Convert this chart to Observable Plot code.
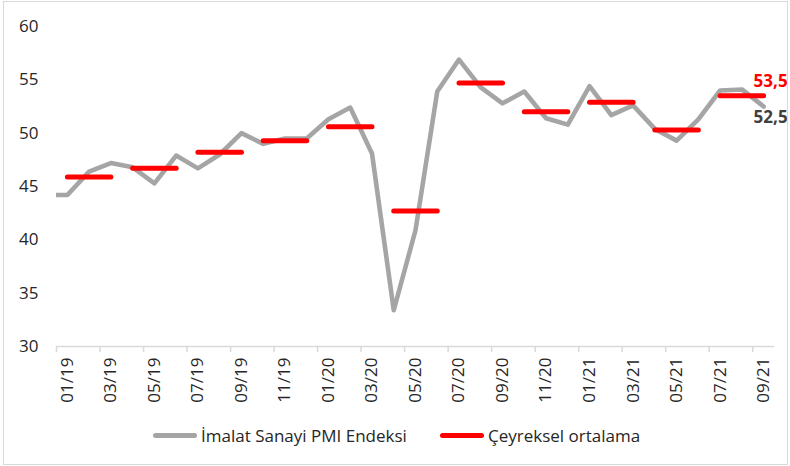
<!DOCTYPE html>
<html>
<head>
<meta charset="utf-8">
<script src="https://cdn.jsdelivr.net/npm/d3@7"></script>
<script src="https://cdn.jsdelivr.net/npm/@observablehq/plot@0.6"></script>
<style>
  html, body { margin: 0; padding: 0; background: #fff; }
  #wrap { position: relative; width: 790px; height: 466px; overflow: hidden; font-family: "Open Sans", sans-serif; }
  #frame { position: absolute; left: 3px; top: 1px; width: 783px; height: 462px; border: 1px solid #d9d9d9; pointer-events: none; }
  #legend { position: absolute; left: 0; top: 423px; width: 790px; height: 24px; font-size: 17px; color: #262626; }
  .item { position: absolute; top: 0; display: flex; align-items: center; height: 24px; white-space: nowrap; }
  .sw { width: 44px; height: 5px; border-radius: 3px; margin-right: 4px; }
</style>
</head>
<body>
<div id="wrap">
  <div id="chart"></div>
  <div id="legend"></div>
  <div id="frame"></div>
</div>
<script>
// ---- data ----
const months = ["01/19","02/19","03/19","04/19","05/19","06/19","07/19","08/19","09/19","10/19","11/19","12/19",
                "01/20","02/20","03/20","04/20","05/20","06/20","07/20","08/20","09/20","10/20","11/20","12/20",
                "01/21","02/21","03/21","04/21","05/21","06/21","07/21","08/21","09/21"];
const pmi = [44.2,46.4,47.2,46.8,45.3,47.9,46.7,48.0,50.0,49.0,49.5,49.5,
             51.3,52.4,48.1,33.4,40.9,53.9,56.9,54.3,52.8,53.9,51.4,50.8,
             54.4,51.7,52.6,50.4,49.3,51.3,54.0,54.1,52.5];
const prevMonth = "12/18";
const prevPmi = 44.2;
const quarters = ["Ç1/19","Ç2/19","Ç3/19","Ç4/19","Ç1/20","Ç2/20","Ç3/20","Ç4/20","Ç1/21","Ç2/21","Ç3/21"];
const quarterAvg = [45.9,46.7,48.2,49.3,50.6,42.7,54.7,52.0,52.9,50.3,53.5];
const yTicks = [30,35,40,45,50,55,60];
const lastPmiLabel = "52,5";
const lastQuarterLabel = "53,5";
const seriesNames = ["İmalat Sanayi PMI Endeksi", "Çeyreksel ortalama"];
const colors = ["#a5a5a5", "#ff0000"];

// ---- tables built from the arrays ----
const pmiData = [{i: -1, m: prevMonth, v: prevPmi}].concat(months.map((m, i) => ({i, m, v: pmi[i]})));
const qData = [];
quarters.forEach((q, k) => { for (let j = 0; j < 3; j++) qData.push({q, i: 3 * k + j, v: quarterAvg[k]}); });
const labelIdx = months.map((m, i) => i).filter(i => i % 2 === 0);
const boundaries = d3.range(0, months.length, 2).map(i => i - 0.5);
const lastI = months.length - 1;

const chart = Plot.plot({
  width: 790,
  height: 420,
  marginLeft: 56,
  marginRight: 16,
  marginTop: 26,
  marginBottom: 74,
  style: {fontFamily: "Open Sans, sans-serif", fontSize: "17px", color: "#262626", background: "transparent"},
  x: {type: "linear", domain: [-0.5, months.length - 0.5], axis: null},
  y: {domain: [30, 60], axis: null},
  marks: [
    Plot.axisY({ticks: yTicks, tickSize: 0, tickPadding: 18, fontSize: 17, fill: "#262626", label: null}),
    Plot.ruleY([30], {stroke: "#d9d9d9", strokeWidth: 1.5}),
    Plot.axisX({ticks: boundaries, tickSize: 6, stroke: "#d9d9d9", strokeWidth: 1.5, strokeOpacity: 1, tickFormat: () => "", label: null}),
    Plot.axisX({ticks: labelIdx, tickSize: 0, tickPadding: 11, tickRotate: -90, tickFormat: i => months[i], fontSize: 17, fill: "#262626", label: null}),
    Plot.line(pmiData, {x: "i", y: "v", stroke: colors[0], strokeWidth: 4.6, strokeLinejoin: "round", clip: true}),
    Plot.line(qData, {x: "i", y: "v", z: "q", stroke: colors[1], strokeWidth: 5, strokeLinecap: "round"}),
    Plot.text([{i: lastI, v: quarterAvg[quarterAvg.length - 1], t: lastQuarterLabel}],
      {x: "i", y: "v", text: "t", dx: -10, dy: -14, textAnchor: "start", fill: colors[1], fontWeight: "bold", fontSize: 17}),
    Plot.text([{i: lastI, v: pmi[lastI], t: lastPmiLabel}],
      {x: "i", y: "v", text: "t", dx: -10, dy: 11, textAnchor: "start", fill: "#404040", fontWeight: "bold", fontSize: 17})
  ]
});
document.getElementById("chart").appendChild(chart);

// ---- legend ----
const legend = document.getElementById("legend");
const legendX = [153, 440];
seriesNames.forEach((name, k) => {
  const it = document.createElement("div");
  it.className = "item";
  it.style.left = legendX[k] + "px";
  const sw = document.createElement("span");
  sw.className = "sw";
  sw.style.background = colors[k];
  const tx = document.createElement("span");
  tx.textContent = name;
  it.appendChild(sw);
  it.appendChild(tx);
  legend.appendChild(it);
});
</script>
</body>
</html>
